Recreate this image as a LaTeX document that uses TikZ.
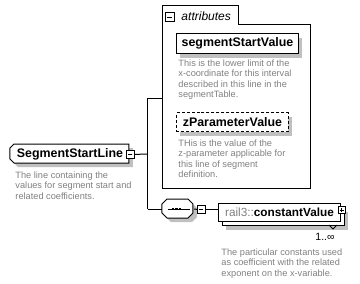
\documentclass[tikz,border=0pt]{standalone}
\usepackage{fontspec}
\setmainfont{Liberation Sans}
\usetikzlibrary{shadows}
\definecolor{descgray}{RGB}{128,128,128}
\definecolor{shadowgray}{RGB}{192,192,192}
\begin{document}
\begin{tikzpicture}[x=1pt,y=-1pt,line width=1pt,
  shade4/.style={general shadow={fill=shadowgray,shadow xshift=4pt,shadow yshift=-4pt}},
  elembox/.style={draw,fill=white,inner sep=0,anchor=north west,
    font=\fontsize{12.4}{14}\selectfont\bfseries},
  desc/.style={anchor=north west,inner sep=0,align=left,text=descgray,
    font=\fontsize{9.2}{10.6}\selectfont},
  iconbox/.style={draw,fill=white,inner sep=0,minimum size=8pt,anchor=north west,line width=0.8pt},
  anchorbox/.style={inner sep=0,anchor=north west}]
\useasboundingbox (0,0) rectangle (360,284);

% attributes group with its tab
\draw (163,188) -- (163,5) -- (239,5) -- (239,24) -- (311,24) -- (311,188) -- cycle;
\node[iconbox,minimum size=9pt] (attrMinus) at (165,12) {};
\draw[line width=0.8pt] ([xshift=2.5pt]attrMinus.center) -- ([xshift=-2.5pt]attrMinus.center);
\node[anchor=west,inner sep=0,font=\fontsize{12}{13}\selectfont\itshape] (attrTitle) at (181,16) {attributes};
\coordinate (attrIn) at (163,98);

% attribute segmentStartValue
\node[elembox,shade4,minimum width=122pt,minimum height=20pt] (startVal) at (176,33) {segmentStartValue};
\node[desc] (startDesc) at (178,59) {This is the lower limit of the\\x-coordinate for this interval\\described in this line in the\\segmentTable.};

% optional attribute zParameterValue
\node[elembox,shade4,dashed,dash pattern=on 3pt off 2pt,minimum width=112pt,minimum height=19pt] (zVal) at (176,112) {zParameterValue};
\node[desc] (zDesc) at (178,139) {THis is the value of the\\z-parameter applicable for\\this line of segment\\definition.};

% element SegmentStartLine (left corners cut)
\fill[shadowgray] (18,148) -- (133,148) -- (133,167) -- (18,167) -- (14,163) -- (14,152) -- cycle;
\draw[fill=white] (14,144) -- (129,144) -- (129,163) -- (14,163) -- (10,159) -- (10,148) -- cycle;
\node[anchorbox,minimum width=119pt,minimum height=19pt,font=\fontsize{12.4}{14}\selectfont\bfseries] (ssl) at (10,144) {SegmentStartLine};
\node[iconbox] (sslMinus) at (126,150) {};
\draw[line width=0.8pt] ([xshift=2pt]sslMinus.center) -- ([xshift=-2pt]sslMinus.center);
\node[desc] (sslDesc) at (15,171) {The line containing the\\values for segment start and\\related coefficients.};

% sequence compositor (octagon)
\fill[shadowgray] (171,203) -- (192,203) -- (197,208) -- (197,217) -- (192,222) -- (171,222) -- (166,217) -- (166,208) -- cycle;
\draw[fill=white] (167,199) -- (188,199) -- (193,204) -- (193,213) -- (188,218) -- (167,218) -- (162,213) -- (162,204) -- cycle;
\node[anchorbox,minimum width=31pt,minimum height=19pt] (seq) at (162,199) {};
\draw (168,209) -- (190,209);
\foreach \dx in {173,176.5,180} \fill (\dx-1.1,207.9) rectangle (\dx+1.1,210.1);
\node[iconbox] (seqMinus) at (197,205) {};
\draw[line width=0.8pt] ([xshift=2pt]seqMinus.center) -- ([xshift=-2pt]seqMinus.center);

% element rail3:constantValue, repeated
\node[draw,fill=white,shade4,inner sep=0,minimum width=122pt,minimum height=18pt,anchor=north west] (constBack) at (222,207) {};
\draw (329,225) -- (333,229) -- (337,225);
\node[draw,fill=white,inner sep=0,minimum width=122pt,minimum height=18pt,anchor=north west,
  font=\fontsize{11.8}{13}\selectfont] (constVal) at (218,203) {\textcolor{descgray}{rail3::}\textbf{constantValue}};
\node[iconbox,minimum size=7pt] (constPlus) at (338,206) {};
\draw[line width=0.8pt] ([xshift=2pt]constPlus.center) -- ([xshift=-2pt]constPlus.center)
  ([yshift=2pt]constPlus.center) -- ([yshift=-2pt]constPlus.center);
\node[anchor=center,inner sep=0,font=\fontsize{10.5}{11}\selectfont] (constCard) at (325,237) {1..∞};
\node[desc] (constDesc) at (221,248) {The particular constants used\\as coefficient with the related\\exponent on the x-variable.};

% connectors
\coordinate (junction) at (148,154);
\draw (sslMinus.east) -- (junction);
\draw (junction |- attrIn) -- (junction |- seq.west);
\draw (junction |- attrIn) -- (attrIn);
\draw (junction |- seq.west) -- (seq.west);
\draw (seq.east) -- (seqMinus.west);
\draw (seqMinus.east) -- (constVal.west |- seqMinus.east);
\end{tikzpicture}
\end{document}
